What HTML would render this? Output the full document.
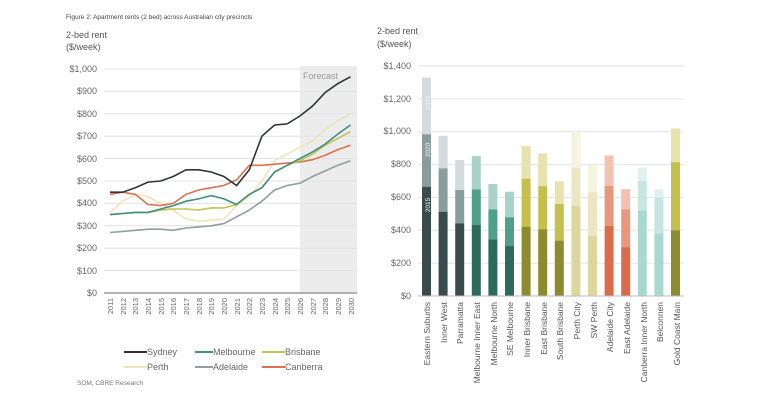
<!DOCTYPE html>
<html><head><meta charset="utf-8"><style>
html,body{margin:0;padding:0;background:#fff;}
svg{display:block;font-family:"Liberation Sans",sans-serif;}
</style></head><body>
<svg id="s" width="768" height="403" viewBox="0 0 768 403">
<text x="66" y="19" font-size="6.5" fill="#444">Figure 2:  Apartment rents (2 bed) across Australian city precincts</text>
<text x="66" y="38" font-size="9" fill="#555">2-bed rent</text>
<text x="66" y="50" font-size="9" fill="#555">($/week)</text>
<rect x="300" y="66" width="57" height="227" fill="#ebeceb"/>
<text x="303" y="79" font-size="9" fill="#999">Forecast</text>
<g id="lg" stroke="#e3e3e3" stroke-width="1"></g>
<g font-size="9" fill="#666" text-anchor="end">
<text x="97" y="72">$1,000</text><text x="97" y="94">$900</text><text x="97" y="117">$800</text><text x="97" y="139">$700</text><text x="97" y="162">$600</text><text x="97" y="184">$500</text><text x="97" y="206">$400</text><text x="97" y="229">$300</text><text x="97" y="251">$200</text><text x="97" y="274">$100</text><text x="97" y="296">$0</text>
</g>
<line x1="104" y1="293" x2="357" y2="293" stroke="#999" stroke-width="1.5"/>
<g id="lines" fill="none" stroke-width="1.6"></g>
<g font-size="7.5" fill="#666" text-anchor="end" id="yrs">
<text transform="translate(113,298) rotate(-90)">2011</text>
<text transform="translate(126,298) rotate(-90)">2012</text>
<text transform="translate(138,298) rotate(-90)">2013</text>
<text transform="translate(151,298) rotate(-90)">2014</text>
<text transform="translate(164,298) rotate(-90)">2015</text>
<text transform="translate(176,298) rotate(-90)">2016</text>
<text transform="translate(189,298) rotate(-90)">2017</text>
<text transform="translate(202,298) rotate(-90)">2018</text>
<text transform="translate(214,298) rotate(-90)">2019</text>
<text transform="translate(227,298) rotate(-90)">2020</text>
<text transform="translate(240,298) rotate(-90)">2021</text>
<text transform="translate(252,298) rotate(-90)">2022</text>
<text transform="translate(265,298) rotate(-90)">2023</text>
<text transform="translate(278,298) rotate(-90)">2024</text>
<text transform="translate(290,298) rotate(-90)">2025</text>
<text transform="translate(303,298) rotate(-90)">2026</text>
<text transform="translate(316,298) rotate(-90)">2027</text>
<text transform="translate(328,298) rotate(-90)">2028</text>
<text transform="translate(341,298) rotate(-90)">2029</text>
<text transform="translate(354,298) rotate(-90)">2030</text>
</g>
<g font-size="9" fill="#666">
<line x1="124" y1="352" x2="147" y2="352" stroke="#2f3535" stroke-width="2"/><text x="147" y="355">Sydney</text>
<line x1="195" y1="352" x2="213" y2="352" stroke="#3e8f80" stroke-width="2"/><text x="213" y="355">Melbourne</text>
<line x1="262" y1="352" x2="285" y2="352" stroke="#c2c352" stroke-width="2"/><text x="285" y="355">Brisbane</text>
<line x1="124" y1="367" x2="147" y2="367" stroke="#ece6b8" stroke-width="2"/><text x="147" y="370">Perth</text>
<line x1="195" y1="367" x2="213" y2="367" stroke="#8fa09e" stroke-width="2"/><text x="213" y="370">Adelaide</text>
<line x1="262" y1="367" x2="285" y2="367" stroke="#d9734e" stroke-width="2"/><text x="285" y="370">Canberra</text>
</g>
<text x="77" y="385" font-size="6.5" fill="#777">SOM, CBRE Research</text>

<text x="377" y="34" font-size="9" fill="#555">2-bed rent</text>
<text x="377" y="47" font-size="9" fill="#555">($/week)</text>
<g id="rg" stroke="#e3e3e3" stroke-width="1"></g>
<g font-size="9" fill="#666" text-anchor="end">
<text x="411" y="69">$1,400</text><text x="411" y="102">$1,200</text><text x="411" y="134">$1,000</text><text x="411" y="167">$800</text><text x="411" y="200">$600</text><text x="411" y="233">$400</text><text x="411" y="266">$200</text><text x="411" y="299">$0</text>
</g>
<g id="bars"></g>
<line x1="418" y1="296" x2="684" y2="296" stroke="#bbb" stroke-width="1"/>
<g font-size="6.5" fill="#f4f4f4" text-anchor="middle">
<text transform="translate(430,103) rotate(-90)">2030</text>
<text transform="translate(430,150) rotate(-90)">2020</text>
<text transform="translate(430,205) rotate(-90)">2015</text>
</g>
<g font-size="8.5" fill="#555" text-anchor="end">
<text transform="translate(430,302) rotate(-90)">Eastern Suburbs</text>
<text transform="translate(447,302) rotate(-90)">Inner West</text>
<text transform="translate(463,302) rotate(-90)">Parramatta</text>
<text transform="translate(480,302) rotate(-90)">Melbourne Inner East</text>
<text transform="translate(497,302) rotate(-90)">Melbourne North</text>
<text transform="translate(513,302) rotate(-90)">SE Melbourne</text>
<text transform="translate(530,302) rotate(-90)">Inner Brisbane</text>
<text transform="translate(547,302) rotate(-90)">East Brisbane</text>
<text transform="translate(563,302) rotate(-90)">South Brisbane</text>
<text transform="translate(580,302) rotate(-90)">Perth City</text>
<text transform="translate(597,302) rotate(-90)">SW Perth</text>
<text transform="translate(613,302) rotate(-90)">Adelaide City</text>
<text transform="translate(630,302) rotate(-90)">East Adelaide</text>
<text transform="translate(647,302) rotate(-90)">Canberra Inner North</text>
<text transform="translate(663,302) rotate(-90)">Belconnen</text>
<text transform="translate(680,302) rotate(-90)">Gold Coast Main</text>
</g>
</svg>
<script>
var NS="http://www.w3.org/2000/svg";
function el(p,t,a){var e=document.createElementNS(NS,t);for(var k in a)e.setAttribute(k,a[k]);document.getElementById(p).appendChild(e);}
for(var v=100;v<=1000;v+=100){var y=293-v*0.224;el("lg","line",{x1:104,x2:357,y1:y,y2:y});}
var L=[
["#ece6b8",[360,410,440,430,400,370,330,320,325,330,390,430,500,590,620,650,680,730,770,800]],
["#8fa09e",[270,275,280,285,285,280,290,295,300,310,340,370,410,460,480,490,520,545,570,590]],
["#d9734e",[440,450,440,395,390,400,440,460,470,480,505,570,570,575,580,585,595,615,640,660]],
["#c2c352",[350,355,360,360,370,375,375,370,380,380,395,440,470,540,570,590,620,660,690,720]],
["#3e8f80",[350,355,360,360,375,390,410,420,435,420,395,440,470,540,570,600,630,665,710,750]],
["#2f3535",[450,450,470,495,500,520,550,550,540,520,480,550,700,750,755,790,835,895,935,965]]];
L.forEach(function(l){var p=l[1].map(function(v,i){return (110+12.66*i).toFixed(1)+","+(293-v*0.224).toFixed(1)}).join(" ");el("lines","polyline",{points:p,stroke:l[0]});});
var s=230/1400;
for(var v=200;v<=1400;v+=200){var y=296-v*s;el("rg","line",{x1:418,x2:684,y1:y,y2:y});}
var B=[[665,985,1330,0],[513,777,975,0],[442,645,828,0],[432,649,852,1],[345,527,682,1],[304,479,635,1],[422,714,913,2],[406,669,868,2],[337,560,698,2],[550,780,1000,3],[365,630,800,3],[427,670,855,4],[297,527,650,4],[520,700,780,5],[380,600,650,5],[400,815,1020,2]];
var C=[["#3a4b4b","#8a9d9d","#d3dbdc"],["#2d6a5c","#4f9f8a","#a9d3c8"],["#8c8b2e","#c5c04c","#e7e3ad"],["#dcd79d","#ebe7c2","#f6f3de"],["#d96c4a","#e8977f","#f1c1b1"],["#a9d8cf","#c7e6df","#e0f0ec"]];
B.forEach(function(b,i){var x=426.5+16.6*i-4.5,c=C[b[3]];
el("bars","rect",{x:x,y:296-b[2]*s,width:9,height:(b[2]-b[1])*s,fill:c[2]});
el("bars","rect",{x:x,y:296-b[1]*s,width:9,height:(b[1]-b[0])*s,fill:c[1]});
el("bars","rect",{x:x,y:296-b[0]*s,width:9,height:b[0]*s,fill:c[0]});});
</script>
</body></html>
